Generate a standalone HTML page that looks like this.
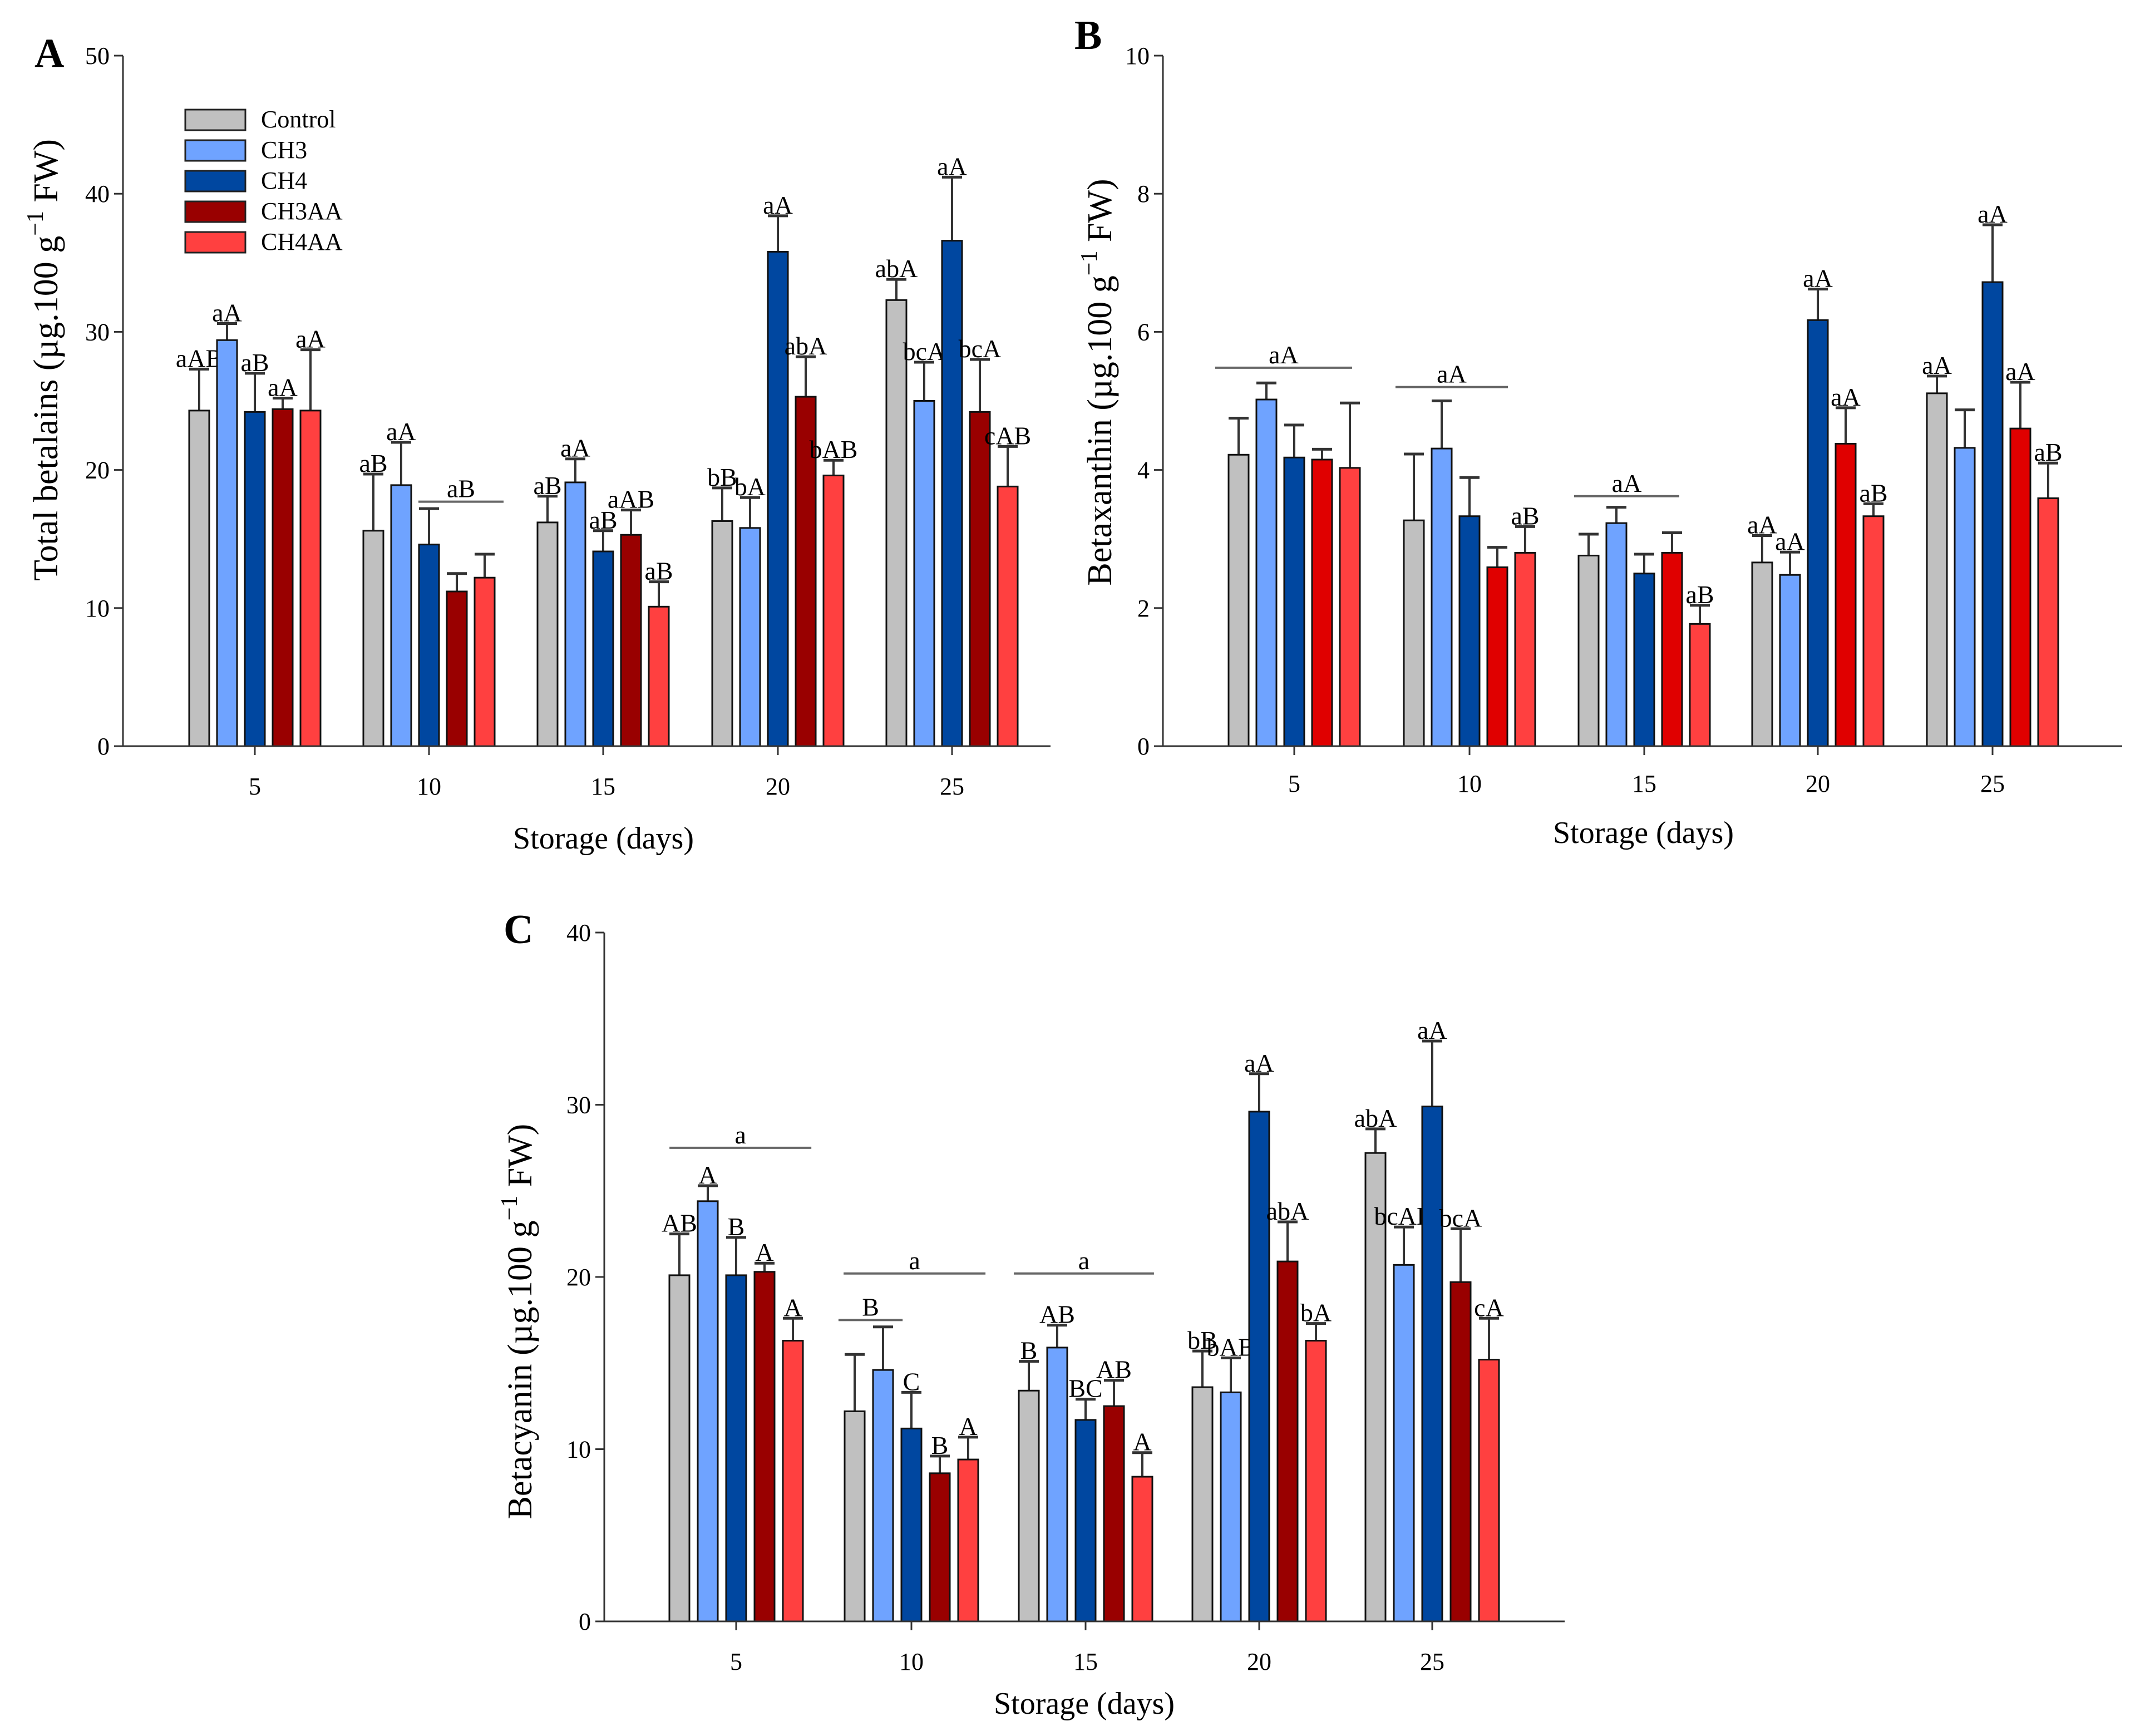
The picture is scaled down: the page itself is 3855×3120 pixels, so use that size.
<!DOCTYPE html>
<html><head><meta charset="utf-8"><style>
html,body{margin:0;padding:0;background:#fff;}
svg{display:block;font-family:"Liberation Serif",serif;}
</style></head><body>
<svg id="fig" width="3855" height="3120" viewBox="0 0 3855 3120" xmlns="http://www.w3.org/2000/svg"></svg>
<script>
const days = ["5","10","15","20","25"];
const series = ["Control","CH3","CH4","CH3AA","CH4AA"];
// Panel A: Total betalains
const aVals = [[24.3,29.4,24.2,24.4,24.3],[15.6,18.9,14.6,11.2,12.2],[16.2,19.1,14.1,15.3,10.1],[16.3,15.8,35.8,25.3,19.6],[32.3,25.0,36.6,24.2,18.8]];
const aErr  = [[27.3,30.6,27.0,25.2,28.7],[19.7,22.0,17.2,12.5,13.9],[18.1,20.8,15.6,17.1,11.9],[18.7,18.0,38.4,28.2,20.7],[33.8,27.8,41.2,28.0,21.7]];
const aLab  = [["aAB","aA","aB","aA","aA"],["aB","aA","","",""],["aB","aA","aB","aAB","aB"],["bB","bA","aA","abA","bAB"],["abA","bcA","aA","bcA","cAB"]];
const aTicks = ["0","10","20","30","40","50"];
const aBrackets = [[1,-0.38,2.68,17.7,"aB"]];
// Panel B: Betaxanthin
const bVals = [[4.22,5.02,4.18,4.15,4.03],[3.27,4.31,3.33,2.59,2.80],[2.76,3.23,2.50,2.80,1.77],[2.66,2.48,6.17,4.38,3.33],[5.11,4.32,6.72,4.60,3.59]];
const bErr  = [[4.75,5.26,4.65,4.30,4.97],[4.23,5.00,3.89,2.88,3.18],[3.07,3.46,2.78,3.09,2.04],[3.05,2.81,6.62,4.90,3.51],[5.36,4.87,7.55,5.27,4.10]];
const bLab  = [["","","","",""],["","","","","aB"],["","","","","aB"],["aA","aA","aA","aA","aB"],["aA","","aA","aA","aB"]];
const bTicks = ["0","2","4","6","8","10"];
const bBrackets = [[0,-2.84,2.08,5.48,"aA"],[1,-2.66,1.38,5.2,"aA"],[2,-2.52,1.26,3.62,"aA"]];
// Panel C: Betacyanin
const cVals = [[20.1,24.4,20.1,20.3,16.3],[12.2,14.6,11.2,8.6,9.4],[13.4,15.9,11.7,12.5,8.4],[13.6,13.3,29.6,20.9,16.3],[27.2,20.7,29.9,19.7,15.2]];
const cErr  = [[22.5,25.3,22.3,20.8,17.6],[15.5,17.1,13.3,9.6,10.7],[15.1,17.2,12.9,14.0,9.8],[15.7,15.3,31.8,23.2,17.3],[28.6,22.9,33.7,22.8,17.6]];
const cLab  = [["AB","A","B","A","A"],["","","C","B","A"],["B","AB","BC","AB","A"],["bB","bAB","aA","abA","bA"],["abA","bcAB","aA","bcA","cA"]];
const cTicks = ["0","10","20","30","40"];
const cBrackets = [[0,-2.35,2.65,27.5,"a"],[1,-2.57,-0.31,17.5,"B"],[1,-2.39,2.61,20.2,"a"],[2,-2.53,2.41,20.2,"a"]];

const NS="http://www.w3.org/2000/svg";
const svg=document.getElementById('fig');
function mk(tag,attrs,parent){const e=document.createElementNS(NS,tag);for(const k in attrs)e.setAttribute(k,attrs[k]);(parent||svg).appendChild(e);return e;}
function txt(s,attrs,parent){const e=mk('text',attrs,parent);e.textContent=s;return e;}

const panels=[
 {id:'a',letter:'A',lx:62,ly:120,x0:221,x1:1888,yTop:100,yBot:1341,max:50,cats:[458,771,1084,1398,1711],step:50,vals:aVals,err:aErr,lab:aLab,ticks:aTicks,br:aBrackets,
  colors:['#c0c0c0','#6fa3ff','#0047a0','#990000','#ff4040'],title:'Total betalains (µg.100 g',tx:81,ty:647,tickY:1428,xtY:1525},
 {id:'b',letter:'B',lx:1931,ly:88,x0:2090,x1:3814,yTop:100,yBot:1341,max:10,cats:[2326,2641,2955,3267,3581],step:50,vals:bVals,err:bErr,lab:bLab,ticks:bTicks,br:bBrackets,
  colors:['#c0c0c0','#6fa3ff','#0047a0','#e00000','#ff4040'],title:'Betaxanthin (µg.100 g',tx:1975,ty:687,tickY:1423,xtY:1515},
 {id:'c',letter:'C',lx:905,ly:1695,x0:1086,x1:2812,yTop:1676,yBot:2914,max:40,cats:[1323,1638,1951,2263,2574],step:51,vals:cVals,err:cErr,lab:cLab,ticks:cTicks,br:cBrackets,
  colors:['#c0c0c0','#6fa3ff','#0047a0','#990000','#ff4040'],title:'Betacyanin (µg.100 g',tx:933,ty:2375,tickY:3001,xtY:3080}
];

panels.forEach(p=>{
  const g=mk('g',{});
  
  
  const y=v=>p.yBot-(v/p.max)*(p.yBot-p.yTop);
  const bx=(ci,k)=>p.cats[ci]+k*p.step;
  // panel letter
  const L=txt(p.letter,{x:p.lx,y:p.ly,'font-size':74,'font-weight':'bold'},g);
  
  
  // bars
  p.vals.forEach((row,ci)=>{
    row.forEach((v,si)=>{
      const cx=bx(ci,si-2);
      const e=p.err[ci][si];
      const eb=mk('line',{x1:cx,x2:cx,y1:y(v),y2:y(e),stroke:'#333','stroke-width':4},g);
      
      
      const cap=mk('line',{x1:cx-18,x2:cx+18,y1:y(e),y2:y(e),stroke:'#333','stroke-width':5},g);
      
      
      const r=mk('rect',{x:cx-18,y:y(v),width:36,height:p.yBot-y(v),fill:p.colors[si],stroke:'#111','stroke-width':3},g);
      
      
      const s=p.lab[ci][si];
      if(s){const t=txt(s,{x:cx,y:y(e)-4,'font-size':46,'text-anchor':'middle'},g);
        
        }
    });
  });
  // brackets
  p.br.forEach(b=>{
    const xa=p.cats[b[0]]+b[1]*p.step, xb=p.cats[b[0]]+b[2]*p.step, yy=y(b[3]);
    const l=mk('line',{x1:xa,x2:xb,y1:yy,y2:yy,stroke:'#666','stroke-width':4},g);
    
    
    const t=txt(b[4],{x:(xa+xb)/2,y:yy-8,'font-size':46,'text-anchor':'middle'},g);
    
    
  });
  // axes
  const ya=mk('line',{x1:p.x0,x2:p.x0,y1:p.yTop,y2:p.yBot,stroke:'#333','stroke-width':3},g);
  
  
  const xa=mk('line',{x1:p.x0-16,x2:p.x1,y1:p.yBot,y2:p.yBot,stroke:'#333','stroke-width':3},g);
  
  
  p.ticks.forEach(tk=>{
    const yy=y(parseFloat(tk));
    const tl=mk('line',{x1:p.x0-16,x2:p.x0,y1:yy,y2:yy,stroke:'#333','stroke-width':3},g);
    
    
    const t=txt(tk,{x:p.x0-24,y:yy+15,'font-size':44,'text-anchor':'end'},g);
    
    
  });
  days.forEach((d,ci)=>{
    const tl=mk('line',{x1:p.cats[ci],x2:p.cats[ci],y1:p.yBot,y2:p.yBot+16,stroke:'#333','stroke-width':3},g);
    
    
    const t=txt(d,{x:p.cats[ci],y:p.tickY,'font-size':44,'text-anchor':'middle'},g);
    
    
  });
  const xt=txt('Storage (days)',{x:(p.cats[0]+p.cats[4])/2,y:p.xtY,'font-size':56,'text-anchor':'middle'},g);
  
  
  const yt=mk('text',{x:0,y:0,'font-size':62,'text-anchor':'middle',transform:`translate(${p.tx+22},${p.ty}) rotate(-90)`},g);
  
  
  yt.appendChild(document.createTextNode(p.title));
  const sup=document.createElementNS(NS,'tspan');sup.setAttribute('dy','-26');sup.setAttribute('font-size','42');sup.textContent='−1';yt.appendChild(sup);
  const rest=document.createElementNS(NS,'tspan');rest.setAttribute('dy','26');rest.textContent=' FW)';yt.appendChild(rest);
});

// legend (panel A)
const lg=mk('g',{});


const legColors=['#c0c0c0','#6fa3ff','#0047a0','#990000','#ff4040'];
series.forEach((s,i)=>{
  const yy=197+i*55;
  const r=mk('rect',{x:333,y:yy,width:108,height:37,fill:legColors[i],stroke:'#222','stroke-width':3},lg);
  
  
  const t=txt(s,{x:469,y:yy+32,'font-size':44},lg);
  
  
});
</script>
</body></html>
